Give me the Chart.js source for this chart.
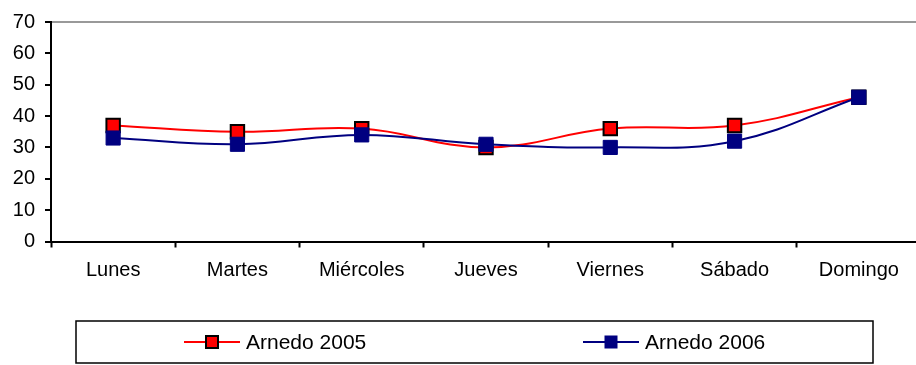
<!DOCTYPE html>
<html>
<head>
<meta charset="utf-8">
<script src="https://cdn.jsdelivr.net/npm/chart.js@4/dist/chart.umd.min.js"></script>
<style>
  html, body { margin: 0; padding: 0; background: #fff; overflow: hidden; }
  #wrap { position: relative; width: 925px; height: 365px; }
</style>
</head>
<body>
<div id="wrap"><canvas id="chart" width="925" height="365"></canvas></div>
<script>
// 曜日ごとの値
const dias = ['Lunes', 'Martes', 'Miércoles', 'Jueves', 'Viernes', 'Sábado', 'Domingo'];
const arnedo2005 = [37, 35, 36, 30, 36, 37, 46];
const arnedo2006 = [33, 31, 34, 31, 30, 32, 46];
const yTicks = [0, 10, 20, 30, 40, 50, 60, 70];

const FONT = '"Liberation Sans", Arial, sans-serif';

// 枠付きの凡例を下に描く
const boxLegend = {
  id: 'boxLegend',
  afterDraw(chart) {
    const ctx = chart.ctx;
    const items = [
      { ds: chart.data.datasets[0], x: 184 },
      { ds: chart.data.datasets[1], x: 583 }
    ];
    const top = 321, bottom = 363, left = 76, right = 873;
    const cy = 342;

    ctx.save();
    ctx.strokeStyle = '#000';
    ctx.lineWidth = 1.5;
    ctx.strokeRect(left, top, right - left, bottom - top);

    items.forEach(it => {
      const ds = it.ds;
      ctx.strokeStyle = ds.borderColor;
      ctx.lineWidth = 2;
      ctx.beginPath();
      ctx.moveTo(it.x, cy);
      ctx.lineTo(it.x + 56, cy);
      ctx.stroke();

      const s = 12;
      ctx.fillStyle = ds.pointBackgroundColor;
      ctx.fillRect(it.x + 28 - s / 2, cy - s / 2, s, s);
      ctx.strokeStyle = ds.pointBorderColor;
      ctx.lineWidth = ds.pointBorderWidth;
      ctx.strokeRect(it.x + 28 - s / 2, cy - s / 2, s, s);

      ctx.fillStyle = '#000';
      ctx.font = '21px ' + FONT;
      ctx.textBaseline = 'middle';
      ctx.textAlign = 'left';
      ctx.fillText(ds.label, it.x + 62, cy + 1);
    });
    ctx.restore();
  }
};

const ctx = document.getElementById('chart');

new Chart(ctx, {
  type: 'line',
  data: {
    labels: dias,
    datasets: [
      {
        label: 'Arnedo 2005',
        data: arnedo2005,
        borderColor: '#ff0000',
        borderWidth: 2,
        pointStyle: 'rect',
        pointRadius: 9.5,
        pointBackgroundColor: '#ff0000',
        pointBorderColor: '#000000',
        pointBorderWidth: 2,
        tension: 0.4,
        order: 2
      },
      {
        label: 'Arnedo 2006',
        data: arnedo2006,
        borderColor: '#000080',
        borderWidth: 2,
        pointStyle: 'rect',
        pointRadius: 10,
        pointBackgroundColor: '#000080',
        pointBorderColor: '#000080',
        pointBorderWidth: 1,
        tension: 0.4,
        order: 1
      }
    ]
  },
  options: {
    responsive: false,
    animation: false,
    layout: {
      autoPadding: false,
      padding: { top: 19, right: 4, bottom: 0, left: 0 }
    },
    plugins: {
      legend: { display: false },
      tooltip: { enabled: false }
    },
    scales: {
      x: {
        offset: true,
        border: { display: true, color: '#000', width: 2 },
        grid: {
          offset: true,
          drawOnChartArea: false,
          drawTicks: true,
          tickLength: 6,
          tickColor: '#000',
          tickWidth: 2
        },
        ticks: {
          color: '#000',
          font: { family: FONT, size: 20 },
          padding: 11,
          maxRotation: 0,
          autoSkip: false
        },
        afterFit(scale) {
          scale.height = 123.5;
          scale.paddingLeft = 0;
          scale.paddingRight = 0;
        }
      },
      y: {
        min: 0,
        max: 70,
        afterBuildTicks(scale) {
          scale.ticks = yTicks.map(v => ({ value: v }));
        },
        border: { display: true, color: '#000', width: 2 },
        grid: {
          color: c => (c.tick && c.tick.value === 70) ? '#999999' : 'rgba(0,0,0,0)',
          lineWidth: 2,
          drawTicks: true,
          tickLength: 6,
          tickColor: '#000',
          tickWidth: 2
        },
        ticks: {
          color: '#000',
          font: { family: FONT, size: 20 },
          padding: 10
        },
        afterFit(scale) {
          scale.width = 51;
        }
      }
    }
  },
  plugins: [boxLegend]
});
</script>
</body>
</html>
